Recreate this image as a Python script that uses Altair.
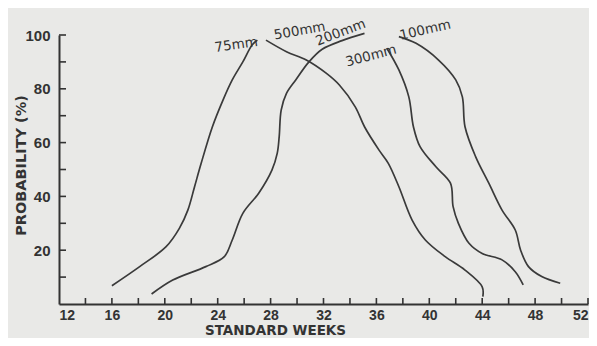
import altair as alt
import pandas as pd

# Curves (standard week, probability %)
weeks_75 = [16.0, 18.1, 20.1, 21.1, 21.75, 22.25, 22.75, 23.6, 24.4, 25.1, 25.9, 26.6, 27.0]
prob_75 = [6.8, 13.9, 21.3, 28.1, 35.0, 43.6, 52.3, 65.9, 75.8, 83.3, 90.0, 96.3, 98.1]

weeks_200 = [19.0, 20.6, 23.1, 24.5, 25.1, 25.9, 27.1, 28.1, 28.5, 28.65, 28.8, 29.2, 29.9, 30.9, 31.9, 33.4, 35.1]
prob_200 = [3.7, 8.9, 13.9, 17.6, 23.8, 33.7, 41.2, 49.8, 56.0, 62.2, 72.1, 78.3, 83.3, 90.0, 94.7, 97.9, 100.6]

weeks_500 = [27.65, 29.2, 30.7, 32.2, 33.2, 34.4, 35.1, 36.2, 36.9, 37.7, 38.7, 39.7, 41.2, 42.7, 44.0, 44.05]
prob_500 = [98.1, 93.8, 90.7, 85.8, 81.4, 73.3, 65.9, 57.2, 52.3, 43.6, 31.2, 23.8, 17.6, 12.6, 6.4, 2.7]

weeks_300 = [36.8, 37.7, 38.45, 38.8, 39.3, 40.5, 41.6, 41.8, 42.2, 43.0, 44.0, 45.5, 46.5, 47.1]
prob_300 = [95.0, 87.0, 77.0, 65.9, 58.5, 51.0, 44.9, 36.2, 30.0, 22.6, 18.8, 16.4, 12.0, 7.1]

weeks_100 = [37.7, 39.0, 40.7, 42.0, 42.5, 42.7, 43.5, 44.5, 45.5, 46.5, 46.9, 47.5, 48.5, 49.9]
prob_100 = [99.4, 96.9, 90.7, 83.3, 77.0, 65.9, 54.8, 44.9, 34.9, 27.5, 20.1, 13.9, 10.2, 7.7]

# Curve labels
label_text = ["75mm", "500mm", "200mm", "300mm", "100mm"]
label_week = [25.4, 30.2, 33.3, 35.6, 39.7]
label_prob = [96.3, 101.5, 100.9, 92.2, 101.8]
label_angle = [352, 350, 339, 345, 347]

# Axis ticks
x_labels = [12, 16, 20, 24, 28, 32, 36, 40, 44, 48, 52]
x_ticks = [14, 16, 18, 20, 22, 24, 26, 28, 30, 32, 34, 36, 38, 40, 42, 44, 46, 48, 50, 52]
y_labels = [20, 40, 60, 80, 100]
y_ticks = [10, 20, 30, 40, 50, 60, 70, 80, 90, 100]

series = [
    ("75mm", weeks_75, prob_75),
    ("200mm", weeks_200, prob_200),
    ("500mm", weeks_500, prob_500),
    ("300mm", weeks_300, prob_300),
    ("100mm", weeks_100, prob_100),
]
rows = []
for name, ws, ps in series:
    for i, (w, p) in enumerate(zip(ws, ps)):
        rows.append({"series": name, "week": w, "prob": p, "order": i})
df = pd.DataFrame(rows)

labels_df = pd.DataFrame({"label": label_text, "week": label_week,
                          "prob": label_prob, "angle": label_angle})

W, H = 529, 269
INK = "#333333"
NUMFONT = "Liberation Sans Narrow, Liberation Sans, sans-serif"
FONT = "DejaVu Sans"

x_scale = alt.Scale(domain=[12, 52], nice=False, zero=False)
y_scale = alt.Scale(domain=[0, 100], nice=False)

x_axis = alt.Axis(values=x_labels, title="STANDARD WEEKS", tickSize=0, labelPadding=4,
                  grid=False, domainWidth=2, domainColor=INK, labelFont=NUMFONT,
                  labelFontSize=14, labelFontWeight="bold", labelColor=INK,
                  titleFont=FONT, titleFontSize=13.5, titleFontWeight="bold",
                  titleColor=INK, titleX=216, titleY=26.5,
                  titleAlign="center", titleBaseline="middle")
y_axis = alt.Axis(values=y_labels, title="PROBABILITY (%)", tickSize=0, labelPadding=9,
                  grid=False, domainWidth=2, domainColor=INK, labelFont=NUMFONT,
                  labelFontSize=15, labelFontWeight="bold", labelColor=INK,
                  titleFont=FONT, titleFontSize=14.5, titleFontWeight="bold",
                  titleColor=INK, titleAngle=270,
                  titleX=-38, titleY=130, titleAlign="center", titleBaseline="middle")

lines = alt.Chart(df).mark_line(interpolate="catmull-rom", stroke="#3a3a3a",
                                strokeWidth=1.7, clip=False).encode(
    x=alt.X("week:Q", scale=x_scale, axis=x_axis),
    y=alt.Y("prob:Q", scale=y_scale, axis=y_axis),
    detail="series:N",
    order="order:Q",
)

xt = alt.Chart(pd.DataFrame({"week": x_ticks})).mark_rule(stroke=INK, strokeWidth=1.6).encode(
    x=alt.X("week:Q", scale=x_scale),
    y=alt.value(H),
    y2=alt.value(H - 6),
)
yt = alt.Chart(pd.DataFrame({"prob": y_ticks})).mark_rule(stroke=INK, strokeWidth=1.6).encode(
    y=alt.Y("prob:Q", scale=y_scale),
    x=alt.value(0),
    x2=alt.value(7),
)

texts = alt.Chart(labels_df).mark_text(font=FONT, fontSize=13.5, color=INK,
                                       align="center", baseline="middle").encode(
    x=alt.X("week:Q", scale=x_scale),
    y=alt.Y("prob:Q", scale=y_scale),
    text="label:N",
    angle=alt.Angle("angle:Q", scale=None),
)

chart = alt.layer(lines, xt, yt, texts).properties(
    width=W, height=H,
    autosize=alt.AutoSizeParams(type="none"),
    padding={"left": 51, "top": 27, "right": 1, "bottom": 34},
    background="#e9e9e7",
).configure_view(stroke=None)

chart.save("out.html", embed_options={"renderer": "svg", "actions": False})
